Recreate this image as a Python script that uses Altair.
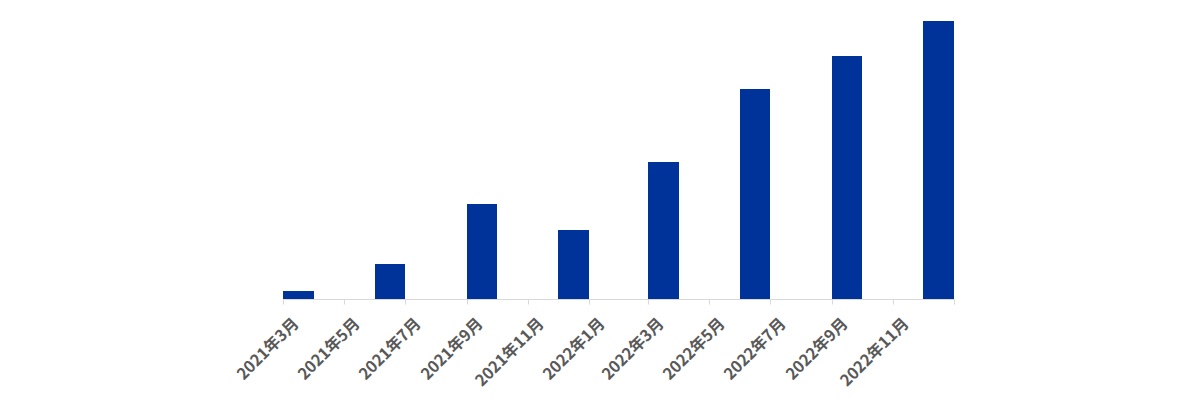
import altair as alt
import pandas as pd

months = ["2021-03", "2021-06", "2021-09", "2021-12", "2022-03", "2022-06", "2022-09", "2022-12"]
values = [8, 35, 95, 69, 137, 210, 243, 278]

tick_dates = ["2021-03-01", "2021-05-01", "2021-07-01", "2021-09-01", "2021-11-01",
              "2022-01-01", "2022-03-01", "2022-05-01", "2022-07-01", "2022-09-01",
              "2022-11-01", "2023-01-01"]

start = pd.to_datetime([m + "-01" for m in months])
end = start + pd.DateOffset(months=1)
df = pd.DataFrame({
    "start": start.strftime("%Y-%m-%d"),
    "end": end.strftime("%Y-%m-%d"),
    "value": values,
})

def dt(s):
    y, m, d = map(int, s.split("-"))
    return alt.DateTime(year=y, month=m, date=d, utc=True)

chart = alt.Chart(df).mark_bar(color="#003399").encode(
    x=alt.X("start:T",
            scale=alt.Scale(type="utc", domain=[dt(tick_dates[0]), dt(tick_dates[-1])], nice=False),
            axis=alt.Axis(
                values=[dt(t) for t in tick_dates],
                labelExpr="utcyear(datum.value) >= 2023 ? '' : utcyear(datum.value) + '年' + (utcmonth(datum.value) + 1) + '月'",
                labelAngle=-45,
                labelFont="Noto Sans CJK JP",
                labelFontWeight="bold",
                labelFontSize=16,
                labelColor="#595959",
                labelPadding=11,
                labelOffset=7,
                labelOverlap=False,
                labelBound=False,
                labelFlush=False,
                domainColor="#d9d9d9",
                tickColor="#d9d9d9",
                tickSize=5,
                grid=False,
                title=None,
            )),
    x2="end:T",
    y=alt.Y("value:Q", scale=alt.Scale(domain=[0, 286], nice=False), axis=None),
    y2=alt.datum(0),
).properties(
    width=671,
    height=286,
    autosize="none",
    padding={"left": 275, "top": 5, "right": 20, "bottom": 100},
).configure_view(stroke=None)

chart.save("out.html", embed_options={"renderer": "svg", "actions": False})
